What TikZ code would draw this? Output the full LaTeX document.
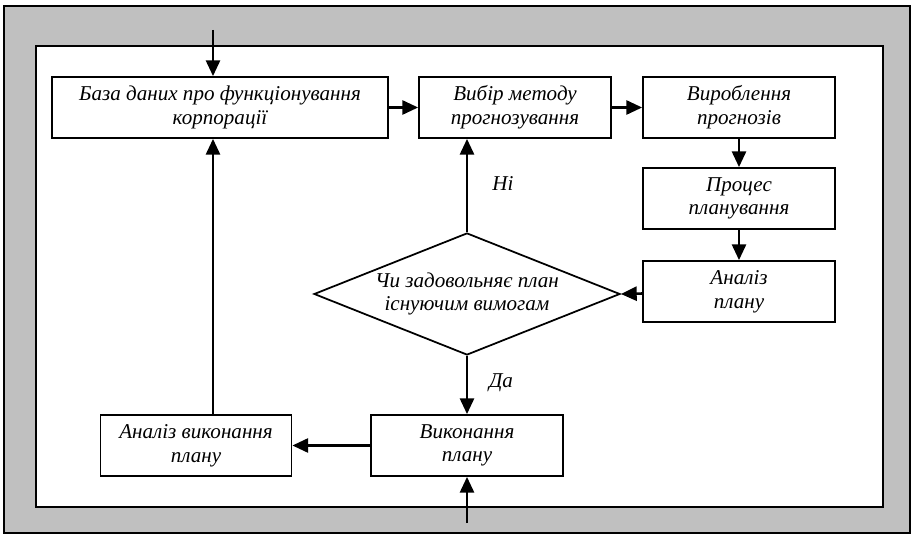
\documentclass[tikz,border=0pt]{standalone}
\usepackage{fontspec}
\setmainfont{Liberation Serif}
\usetikzlibrary{arrows.meta,shapes.geometric}
\definecolor{framegray}{RGB}{192,192,192}

\begin{document}
\begin{tikzpicture}[
        block/.style={draw, line width=1pt, fill=white, minimum width=3.84cm,
            minimum height=1.22cm, align=center, inner sep=1pt,
            font=\itshape\fontsize{12}{13.5}\selectfont},
        flow/.style={line width=1.5pt, -{Triangle[length=9pt,width=8pt]}},
        lbl/.style={font=\itshape\fontsize{12}{13.5}\selectfont}
    ]
        \useasboundingbox (0, 0) rectangle (18.28, 10.74);

        % Frame
        \draw[fill=framegray, line width=0.7pt] (0.08, 0.08) rectangle (18.2, 10.62);
        \draw[fill=white, line width=1.4pt] (0.72, 0.6) rectangle (17.66, 9.82);

        % Top row
        \node[block, minimum width=6.72cm] (baza) at (4.4, 8.59) {База даних про функціонування\\корпорації};
        \node[block] (vybir) at (10.3, 8.59) {Вибір методу\\прогнозування};
        \node[block] (vyrob) at (14.78, 8.59) {Вироблення\\прогнозів};

        % Right column
        \node[block] (proces) at (14.78, 6.77) {Процес\\планування};
        \node[block] (analiz) at (14.78, 4.91) {Аналіз\\плану};

        % Decision
        \node[diamond, draw, line width=1pt, aspect=2.5, minimum width=6.12cm, minimum height=2.44cm,
            inner sep=0pt, align=center, font=\itshape\fontsize{12}{13.5}\selectfont]
            (dia) at (9.34, 4.86) {Чи задовольняє план\\існуючим вимогам};

        % Bottom row
        \node[block] (vykon) at (9.34, 1.83) {Виконання\\плану};
        \node[block, minimum width=3.82cm] (anvyk) at (3.92, 1.83) {Аналіз виконання\\плану};

        % Inputs
        \coordinate (intop) at (4.26, 10.14);
        \coordinate (inbot) at (9.34, 0.28);
        \draw[flow] (intop) -- (intop |- baza.north);
        \draw[flow] (inbot) -- (inbot |- vykon.south);

        % Connectors
        \draw[flow] (baza) -- (vybir);
        \draw[flow] (vybir) -- (vyrob);
        \draw[flow] (vyrob) -- (proces);
        \draw[flow] (proces) -- (analiz);
        \draw[flow] (analiz) -- (dia.east);
        \draw[flow] (dia.north) -- (dia.north |- vybir.south);
        \draw[flow] (dia.south) -- (dia.south |- vykon.north);
        \draw[flow] (vykon) -- (anvyk);
        \draw[flow] (intop |- anvyk.north) -- (intop |- baza.south);

        % Labels
        \node[lbl] (ni) at (10.06, 7.06) {Ні};
        \node[lbl] (da) at (10.02, 3.08) {Да};
    \end{tikzpicture}
\end{document}
